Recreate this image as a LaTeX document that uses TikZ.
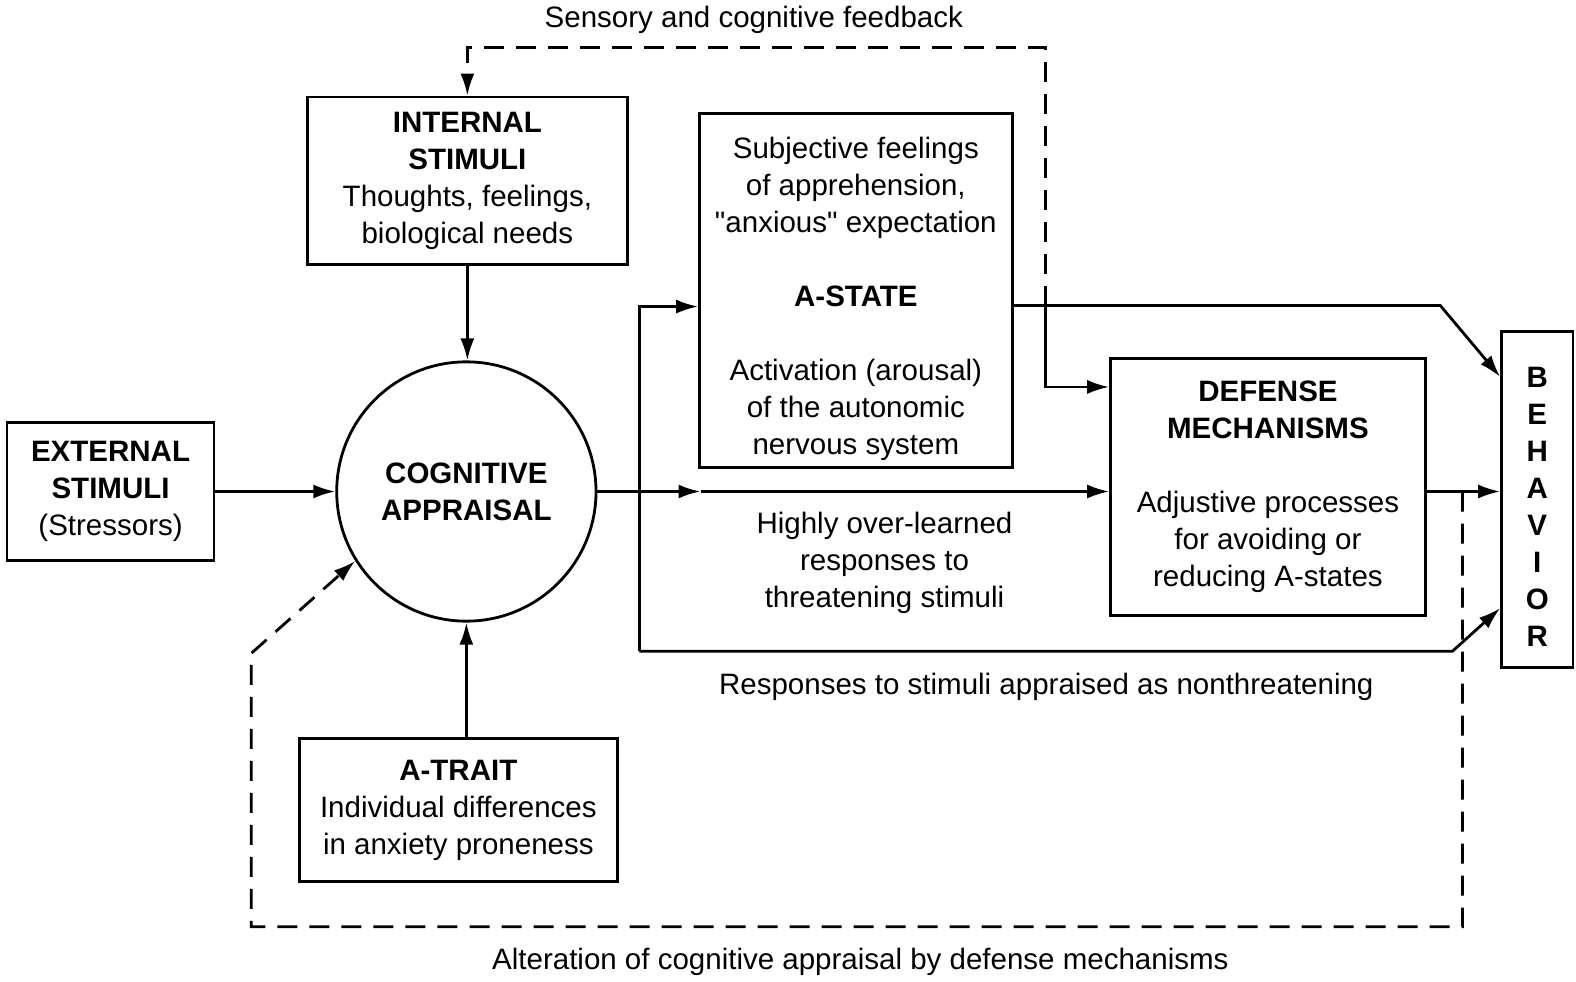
\documentclass[tikz,border=0pt]{standalone}
\usepackage{fontspec}
\setmainfont{Liberation Sans}
\usetikzlibrary{arrows.meta,calc}
\begin{document}
\begin{tikzpicture}[x=1.005pt,y=-1.005pt,
  every node/.style={font=\fontsize{29.5}{37}\selectfont, inner sep=0pt, align=center},
  box/.style={draw, line width=2.8pt},
  tip/.style={-{Latex[length=22pt,width=14pt]}},
  conn/.style={line width=2.8pt, tip},
  fb/.style={line width=2.8pt, dash pattern=on 20pt off 12pt}
]
\useasboundingbox (0,0) rectangle (1568,977);

% boxes
\node[box, minimum width=1.005*206pt, minimum height=1.005*138pt] (ext) at (110,489)
  {\textbf{EXTERNAL}\\\textbf{STIMULI}\\(Stressors)};
\node[box, circle, minimum size=1.005*258pt] (app) at (464,489)
  {\textbf{COGNITIVE}\\\textbf{APPRAISAL}};
\node[box, minimum width=1.005*318pt, minimum height=1.005*167pt] (int) at (465,180)
  {\textbf{INTERNAL}\\\textbf{STIMULI}\\Thoughts, feelings,\\biological needs};
\node[box, minimum width=1.005*316pt, minimum height=1.005*142pt] (trait) at (456,806)
  {\textbf{A-TRAIT}\\Individual differences\\in anxiety proneness};
\node[box, minimum width=1.005*311pt, minimum height=1.005*352pt] (state) at (851.5,289) {};
\node (statetext) at (851.5,297)
  {Subjective feelings\\of apprehension,\\\textquotedbl anxious\textquotedbl{} expectation\\[37pt]\textbf{A-STATE}\\[37pt]Activation (arousal)\\of the autonomic\\nervous system};
\node[box, minimum width=1.005*313pt, minimum height=1.005*255pt] (def) at (1261.5,484.5)
  {\textbf{DEFENSE}\\\textbf{MECHANISMS}\\[37pt]Adjustive processes\\for avoiding or\\reducing A-states};
\node[box, minimum width=1.005*71pt, minimum height=1.005*334pt] (beh) at (1529.5,497) {};
\node (behtext) at (1529.5,504)
  {\textbf{B}\\\textbf{E}\\\textbf{H}\\\textbf{A}\\\textbf{V}\\\textbf{I}\\\textbf{O}\\\textbf{R}};

% inputs to the appraisal
\draw[conn] (ext.east) -- (app.west);
\draw[conn] (int.south) -- (int.south |- app.north);
\draw[conn] (trait.north -| app.south) -- (app.south);

% main route to the defense mechanisms
\coordinate (mid) at (697,489);
\draw[conn] (app.east) -- (mid);
\draw[conn] (mid) -- (def.west |- mid);

% branch to A-state and the nonthreatening route
\coordinate (j1top) at (636,305);
\coordinate (j1bot) at (636,648);
\coordinate (k1) at (1445,648);
\draw[conn] (j1bot) -- (j1top) -- (j1top -| state.west);
\draw[conn] (j1bot) -- (k1) -- ($(beh.west)+(0,108)$);

% A-state output
\coordinate (so) at ($(state.east)+(0,15)$);
\coordinate (k2) at (1433,304);
\coordinate (j2) at (1040,304);
\coordinate (j2b) at (1040,385);
\draw[conn] (so) -- (k2) -- ($(beh.west)+(0,-122)$);
\draw[conn] (j2) -- (j2b) -- (j2b -| def.west);

% defense mechanisms to behavior
\coordinate (d1) at (def.east |- mid);
\draw[conn] (d1) -- (d1 -| beh.west);

% sensory and cognitive feedback
\coordinate (t1) at (1040,47);
\coordinate (t2) at (int.north |- t1);
\draw[fb, tip] (j2) -- (t1) -- (t2) -- (int.north);

% alteration of appraisal by defense mechanisms
\coordinate (b0) at (1455,489);
\coordinate (b1) at (1455,922);
\coordinate (b2) at (250,922);
\coordinate (b3) at (250,650);
\draw[fb, tip] (b0) -- (b1) -- (b2) -- (b3) -- (app.212);

% labels
\node (lfb) at (750,20) {Sensory and cognitive feedback};
\node (lhi) at (880,560) {Highly over-learned\\responses to\\threatening stimuli};
\node (lnt) at (1041,683) {Responses to stimuli appraised as nonthreatening};
\node (lalt) at (856,957) {Alteration of cognitive appraisal by defense mechanisms};
\end{tikzpicture}
\end{document}
